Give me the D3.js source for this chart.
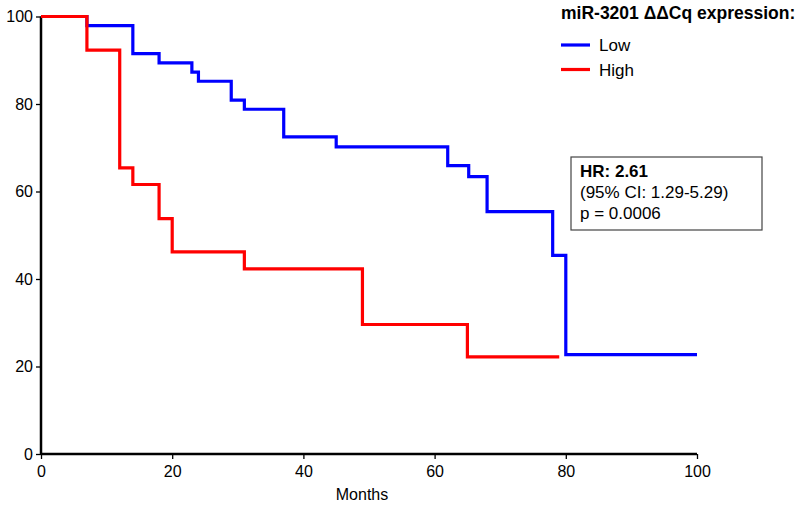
<!DOCTYPE html>
<html>
<head>
<meta charset="utf-8">
<script src="https://cdn.jsdelivr.net/npm/d3@7"></script>
<style>
  html, body { margin: 0; padding: 0; background: #fff; }
  svg { display: block; font-family: "Liberation Sans", Arial, sans-serif; }
</style>
</head>
<body>
<svg id="chart" width="800" height="509"></svg>
<script>
// Kaplan-Meier step data: [month, survival %]
const lowTimes  = [0, 7, 14, 18, 23, 24, 29, 31, 37, 45, 62, 65.2, 68, 78, 80, 100];
const lowValues = [100, 97.9, 91.5, 89.4, 87.3, 85.2, 80.9, 78.8, 72.5, 70.2, 65.9, 63.4, 55.4, 45.4, 22.7, 22.7];
const highTimes  = [0, 7, 12, 14, 18, 20, 31, 49, 65, 79];
const highValues = [100, 92.3, 65.4, 61.6, 53.8, 46.2, 42.3, 29.6, 22.2, 22.2];
const xTicks = [0, 20, 40, 60, 80, 100];
const yTicks = [0, 20, 40, 60, 80, 100];
const seriesNames = ["Low", "High"];
const seriesColors = ["#0000ff", "#ff0000"];
const legendTitle = "miR-3201 ΔΔCq expression:";
const statLines = ["HR: 2.61", "(95% CI: 1.29-5.29)", "p = 0.0006"];
const xLabel = "Months";

const svg = d3.select("#chart");
const x = d3.scaleLinear().domain([0, 100]).range([41, 697]);
const y = d3.scaleLinear().domain([0, 100]).range([454, 16.5]);

// axes
const xAxis = svg.append("g").attr("transform", `translate(0,${y(0)})`)
  .call(d3.axisBottom(x).tickValues(xTicks).tickSize(5).tickPadding(3));
const yAxis = svg.append("g").attr("transform", `translate(${x(0)},0)`)
  .call(d3.axisLeft(y).tickValues(yTicks).tickSize(5).tickPadding(3));
[xAxis, yAxis].forEach(g => {
  g.select(".domain").attr("stroke", "#000").attr("stroke-width", 2.5);
  g.selectAll(".tick line").attr("stroke", "#000").attr("stroke-width", 1.3);
  g.selectAll(".tick text").attr("fill", "#000").attr("font-size", 16)
    .attr("font-family", "Liberation Sans, Arial, sans-serif");
});
xAxis.select(".domain").attr("d", `M${x(0)},0H${x(100)}`);
yAxis.select(".domain").attr("d", `M0,${y(0)}V${y(100)}`);
xAxis.selectAll(".tick text").attr("dy", "0.95em");

svg.append("text").attr("x", 362).attr("y", 500).attr("text-anchor", "middle")
  .attr("font-size", 16).text(xLabel);

// curves
const line = d3.line().x(d => x(d[0])).y(d => y(d[1])).curve(d3.curveStepAfter);
const lowData = lowTimes.map((t, i) => [t, lowValues[i]]);
const highData = highTimes.map((t, i) => [t, highValues[i]]);
svg.append("path").datum(lowData).attr("d", line).attr("fill", "none")
  .attr("stroke", seriesColors[0]).attr("stroke-width", 3.2);
svg.append("path").datum(highData).attr("d", line).attr("fill", "none")
  .attr("stroke", seriesColors[1]).attr("stroke-width", 3.2);

// legend
svg.append("text").attr("x", 561).attr("y", 19).attr("font-size", 17.5)
  .attr("font-weight", "bold").text(legendTitle);
seriesNames.forEach((n, i) => {
  const ly = 45 + i * 24.5;
  svg.append("line").attr("x1", 561).attr("x2", 590).attr("y1", ly).attr("y2", ly)
    .attr("stroke", seriesColors[i]).attr("stroke-width", 3.2);
  svg.append("text").attr("x", 599).attr("y", ly + 6).attr("font-size", 17).text(n);
});

// stats box
svg.append("rect").attr("x", 571).attr("y", 157).attr("width", 191).attr("height", 73)
  .attr("fill", "#fff").attr("stroke", "#444").attr("stroke-width", 1.2);
statLines.forEach((s, i) => {
  svg.append("text").attr("x", 580).attr("y", 177 + i * 21).attr("font-size", 17)
    .attr("font-weight", i === 0 ? "bold" : "normal").text(s);
});
</script>
</body>
</html>
